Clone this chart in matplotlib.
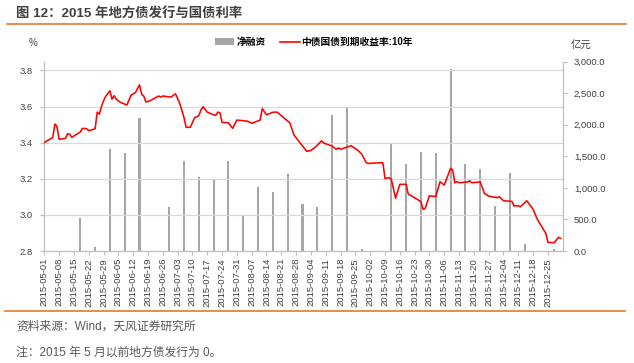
import matplotlib
matplotlib.use("Agg")
import matplotlib.pyplot as plt
from matplotlib.lines import Line2D
from matplotlib.patches import Patch
import pandas as pd

plt.rcParams['font.family'] = ['Liberation Sans', 'Noto Sans CJK SC']

TEXT_COLOR = "#404040"
GRID_COLOR = "#d9d9d9"
AXIS_COLOR = "#bfbfbf"
BAR_COLOR = "#a6a6a6"
LINE_COLOR = "#ff0000"
ORANGE = "#e8792b"

# 地方债净融资（亿元），每周一个
BAR_START = "2015-05-18"
BAR_VALUES = [530, 64, 1622, 1560, 2110, 0, 695, 1430, 1166, 1130, 1420,
              573, 1013, 938, 1214, 743, 695, 2158, 2259, 30, 0, 1697,
              1384, 1570, 1554, 2890, 1379, 1293, 711, 1241, 116, 0, 30]

# 中债国债到期收益率:10年（%）
YIELD_DATES = [
    "2015-05-01", "2015-05-05", "2015-05-06", "2015-05-07", "2015-05-08",
    "2015-05-11", "2015-05-12", "2015-05-13", "2015-05-14", "2015-05-18",
    "2015-05-19", "2015-05-21", "2015-05-22", "2015-05-25", "2015-05-26",
    "2015-05-27", "2015-05-28", "2015-05-29", "2015-05-30", "2015-06-01",
    "2015-06-02", "2015-06-03", "2015-06-04", "2015-06-06", "2015-06-09",
    "2015-06-11", "2015-06-13", "2015-06-15", "2015-06-16", "2015-06-17",
    "2015-06-18", "2015-06-20", "2015-06-24", "2015-06-25", "2015-06-26",
    "2015-06-30", "2015-07-01", "2015-07-02", "2015-07-04", "2015-07-06",
    "2015-07-07", "2015-07-09", "2015-07-11", "2015-07-13", "2015-07-14",
    "2015-07-15", "2015-07-17", "2015-07-20", "2015-07-21", "2015-07-22",
    "2015-07-23", "2015-07-24", "2015-07-27", "2015-07-29", "2015-07-31",
    "2015-08-05", "2015-08-07", "2015-08-11", "2015-08-12", "2015-08-14",
    "2015-08-17", "2015-08-19", "2015-08-21", "2015-08-25", "2015-08-27",
    "2015-09-02", "2015-09-04", "2015-09-06", "2015-09-09", "2015-09-10",
    "2015-09-14", "2015-09-16", "2015-09-17", "2015-09-18", "2015-09-23",
    "2015-09-26", "2015-09-28", "2015-09-30", "2015-10-01", "2015-10-08",
    "2015-10-09", "2015-10-11", "2015-10-12", "2015-10-14", "2015-10-16",
    "2015-10-19", "2015-10-20", "2015-10-23", "2015-10-26", "2015-10-27",
    "2015-10-28", "2015-10-30", "2015-11-02", "2015-11-04", "2015-11-06",
    "2015-11-09", "2015-11-10", "2015-11-11", "2015-11-12", "2015-11-13",
    "2015-11-17", "2015-11-18", "2015-11-19", "2015-11-23", "2015-11-25",
    "2015-11-27", "2015-12-01", "2015-12-02", "2015-12-04", "2015-12-08",
    "2015-12-09", "2015-12-11", "2015-12-12", "2015-12-15", "2015-12-18",
    "2015-12-20", "2015-12-24", "2015-12-25", "2015-12-28", "2015-12-30",
    "2015-12-31",
]
YIELD_VALUES = [
    3.401, 3.429, 3.503, 3.488, 3.418,
    3.424, 3.449, 3.447, 3.429, 3.459,
    3.479, 3.477, 3.466, 3.477, 3.569,
    3.557, 3.600, 3.632, 3.656, 3.687,
    3.640, 3.660, 3.640, 3.623, 3.608,
    3.663, 3.676, 3.720, 3.667, 3.658,
    3.625, 3.632, 3.658, 3.652, 3.658,
    3.652, 3.662, 3.670, 3.617, 3.540,
    3.485, 3.485, 3.538, 3.549, 3.580,
    3.599, 3.569, 3.554, 3.551, 3.569,
    3.565, 3.512, 3.510, 3.479, 3.525,
    3.519, 3.507, 3.525, 3.588, 3.554,
    3.568, 3.569, 3.549, 3.510, 3.442,
    3.352, 3.357, 3.374, 3.410, 3.398,
    3.381, 3.363, 3.370, 3.363, 3.383,
    3.359, 3.337, 3.291, 3.285, 3.289,
    3.202, 3.206, 3.197, 3.092, 3.169,
    3.169, 3.115, 3.095, 3.073, 3.031,
    3.036, 3.106, 3.101, 3.184, 3.165,
    3.258, 3.248, 3.178, 3.184, 3.178,
    3.182, 3.189, 3.178, 3.182, 3.119,
    3.104, 3.095, 3.101, 3.078, 3.075,
    3.049, 3.051, 3.045, 3.078, 3.031,
    2.975, 2.898, 2.848, 2.846, 2.876,
    2.870,
]

TICK_START = "2015-05-01"
TICK_END = "2015-12-25"
X_END = "2016-01-01"

bar_dates = pd.date_range(BAR_START, periods=len(BAR_VALUES), freq="7D")
yield_dates = pd.to_datetime(YIELD_DATES)
tick_dates = pd.date_range(TICK_START, TICK_END, freq="7D")

fig = plt.figure(figsize=(6.34, 3.63), dpi=100)
ax_bar = fig.add_axes([0.0699, 0.3085, 0.8177, 0.5215])
ax_line = ax_bar.twinx()

# bars on the right scale, behind the line
ax_bar.bar(bar_dates, BAR_VALUES, width=1.0, color=BAR_COLOR, zorder=2)
ax_bar.set_ylim(0, 3000)
ax_bar.set_yticks(range(0, 3001, 500))
ax_bar.yaxis.tick_right()
ax_bar.yaxis.set_major_formatter(matplotlib.ticker.FuncFormatter(lambda v, p: f"{v:,.1f}"))

ax_line.plot(yield_dates, YIELD_VALUES, color=LINE_COLOR, linewidth=1.15, zorder=3)
ax_line.set_ylim(2.8, 3.848)
ax_line.set_yticks([2.8, 3.0, 3.2, 3.4, 3.6, 3.8])
ax_line.yaxis.tick_left()
ax_line.yaxis.set_major_formatter(matplotlib.ticker.FormatStrFormatter("%.1f"))
ax_line.grid(axis="y", color=GRID_COLOR, linewidth=0.9)
ax_line.set_axisbelow(True)

ax_bar.set_xlim(pd.Timestamp(TICK_START), pd.Timestamp(X_END))
ax_bar.set_xticks(tick_dates)
ax_bar.set_xticklabels([d.strftime("%Y-%m-%d") for d in tick_dates], rotation=90)

for a in (ax_bar, ax_line):
    a.spines["top"].set_visible(False)
    for s in ("left", "right", "bottom"):
        a.spines[s].set_color(AXIS_COLOR)
        a.spines[s].set_linewidth(0.8)
    a.tick_params(colors=TEXT_COLOR, labelsize=6.8, length=3, width=0.8)
    a.tick_params(axis="both", color=AXIS_COLOR)
ax_bar.tick_params(axis="x", pad=2)
ax_bar.tick_params(axis="y", pad=5)
ax_line.tick_params(axis="y", pad=5)

# unit labels
fig.text(32.7 / 634, 1 - 43.3 / 363, "%", ha="center", va="center",
         fontsize=7, color=TEXT_COLOR)
fig.text(571 / 634, 1 - 45.7 / 363, "亿元", ha="left", va="center",
         fontsize=7.5, color=TEXT_COLOR)

# legend
handles = [Patch(facecolor=BAR_COLOR, edgecolor="none"),
           Line2D([0], [0], color=LINE_COLOR, linewidth=1.2)]
leg = fig.legend(handles, ["净融资", "中债国债到期收益率:10年"], loc="center",
                 bbox_to_anchor=(314 / 634, 1 - 42 / 363), ncol=2, frameon=False,
                 handlelength=2.0, handletextpad=0.2,
                 columnspacing=1.5, prop={"weight": "bold", "size": 7})

# title, rules and notes
fig.text(16 / 634, 1 - 13.3 / 363, "图 12：2015 年地方债发行与国债利率",
         ha="left", va="center", fontsize=9.6, fontweight="bold", color=TEXT_COLOR)
fig.add_artist(Line2D([7 / 634, 626 / 634], [1 - 24 / 363, 1 - 24 / 363],
                      color=ORANGE, linewidth=1.2))
fig.add_artist(Line2D([5 / 634, 625 / 634], [1 - 311 / 363, 1 - 311 / 363],
                      color=ORANGE, linewidth=1.2))
fig.text(16 / 634, 1 - 327 / 363, "资料来源：Wind，天风证券研究所",
         ha="left", va="center", fontsize=8.5, color="#595959")
fig.text(16 / 634, 1 - 353 / 363, "注：2015 年 5 月以前地方债发行为 0。",
         ha="left", va="center", fontsize=8.5, color="#595959")

fig.savefig("out.png", dpi=100)
